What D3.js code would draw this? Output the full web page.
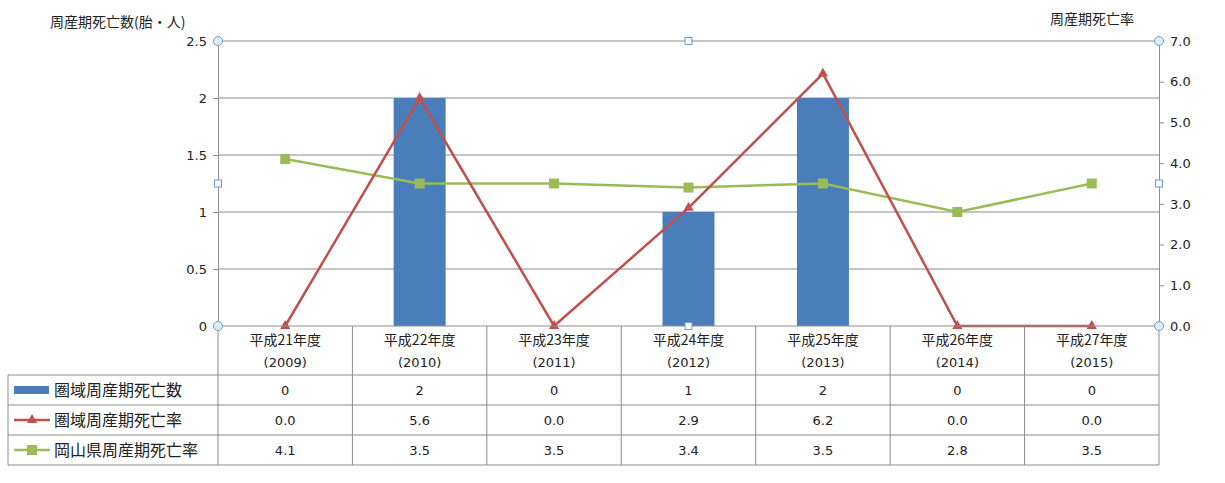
<!DOCTYPE html>
<html>
<head>
<meta charset="utf-8">
<script src="https://cdn.jsdelivr.net/npm/d3@7"></script>
<style>
  body { margin: 0; background: #fff; }
  text { font-family: "Noto Sans CJK JP", "Noto Sans", sans-serif; fill: #222; }
</style>
</head>
<body>
<div id="root"></div>
<script>
const categories = ["平成21年度", "平成22年度", "平成23年度", "平成24年度", "平成25年度", "平成26年度", "平成27年度"];
const years = ["(2009)", "(2010)", "(2011)", "(2012)", "(2013)", "(2014)", "(2015)"];
const deaths = [0, 2, 0, 1, 2, 0, 0];
const areaRate = [0.0, 5.6, 0.0, 2.9, 6.2, 0.0, 0.0];
const prefRate = [4.1, 3.5, 3.5, 3.4, 3.5, 2.8, 3.5];
const leftTicks = [0, 0.5, 1, 1.5, 2, 2.5];
const rightTicks = [0, 1, 2, 3, 4, 5, 6, 7];
const seriesNames = ["圏域周産期死亡数", "圏域周産期死亡率", "岡山県周産期死亡率"];

const W = 1225, H = 483;
const plot = {left: 218, right: 1159, top: 41, bottom: 326};
const tableLeft = 8, rowH = 30, headBottom = 375;
const blue = "#4a7ebb", red = "#c0504d", green = "#9bbb59";

const svg = d3.select("#root").append("svg")
    .attr("width", W)
    .attr("height", H);

let x = d3.scaleBand()
    .domain(categories)
    .range([plot.left, plot.right]);

let yL = d3.scaleLinear().domain([0, 2.5]).range([plot.bottom, plot.top]);
let yR = d3.scaleLinear().domain([0, 7]).range([plot.bottom, plot.top]);
const cx = (i) => x(categories[i]) + x.bandwidth() / 2;

// gridlines
svg.selectAll(".grid")
  .data(leftTicks.filter(d => d > 0))
  .enter().append("line")
    .attr("x1", plot.left).attr("x2", plot.right)
    .attr("y1", d => yL(d)).attr("y2", d => yL(d))
    .attr("stroke", "#8c8c8c").attr("stroke-width", 1);

// left axis
let leftAxis = d3.axisLeft(yL).tickValues(leftTicks).tickSize(5).tickPadding(6)
    .tickFormat(d => d);
let gL = svg.append("g")
    .attr("transform", "translate(" + plot.left + ",0)")
    .call(leftAxis);
gL.select(".domain").attr("stroke", "#8c8c8c");
gL.selectAll(".tick line").attr("stroke", "#8c8c8c");
gL.selectAll(".tick text").attr("font-size", 13).style("font-family", "'DejaVu Sans', sans-serif").attr("fill", "#333");

// right axis
let rightAxis = d3.axisRight(yR).tickValues(rightTicks).tickSize(5).tickPadding(6)
    .tickFormat(d3.format(".1f"));
let gR = svg.append("g")
    .attr("transform", "translate(" + plot.right + ",0)")
    .call(rightAxis);
gR.select(".domain").attr("stroke", "#8c8c8c");
gR.selectAll(".tick line").attr("stroke", "#8c8c8c");
gR.selectAll(".tick text").attr("font-size", 13).style("font-family", "'DejaVu Sans', sans-serif").attr("fill", "#333");

// axis titles
svg.append("text").attr("x", 50).attr("y", 27).attr("font-size", 14).text("周産期死亡数(胎・人)");
svg.append("text").attr("x", 1050).attr("y", 24).attr("font-size", 14).text("周産期死亡率");

// bars
const barW = 52;
svg.selectAll(".bar")
  .data(deaths)
  .enter().append("rect")
    .attr("x", (d, i) => cx(i) - barW / 2)
    .attr("y", d => yL(d))
    .attr("width", barW)
    .attr("height", d => plot.bottom - yL(d))
    .attr("fill", blue);

// lines
const line = (s) => d3.line().x((d, i) => cx(i)).y(d => s(d));
svg.append("path").datum(prefRate)
    .attr("d", line(yR)).attr("fill", "none")
    .attr("stroke", green).attr("stroke-width", 2.5);
svg.append("path").datum(areaRate)
    .attr("d", line(yR)).attr("fill", "none")
    .attr("stroke", red).attr("stroke-width", 2.5);

svg.selectAll(".sq")
  .data(prefRate)
  .enter().append("rect")
    .attr("x", (d, i) => cx(i) - 5).attr("y", d => yR(d) - 5)
    .attr("width", 10).attr("height", 10)
    .attr("fill", green);

const tri = d3.symbol().type(d3.symbolTriangle).size(45);
svg.selectAll(".tri")
  .data(areaRate)
  .enter().append("path")
    .attr("d", tri)
    .attr("transform", (d, i) => "translate(" + cx(i) + "," + yR(d) + ")")
    .attr("fill", red);

// plot x-axis line
svg.append("line")
    .attr("x1", plot.left).attr("x2", plot.right)
    .attr("y1", plot.bottom).attr("y2", plot.bottom)
    .attr("stroke", "#8c8c8c");

// data table
const tableBottom = headBottom + rowH * 3;
const grid = svg.append("g").attr("stroke", "#8c8c8c").attr("stroke-width", 1);
categories.forEach((c, i) => {
  let xb = x(c) + x.bandwidth();
  grid.append("line").attr("x1", xb).attr("x2", xb).attr("y1", plot.bottom).attr("y2", tableBottom);
});
[0, 1, 2, 3].forEach(r => {
  grid.append("line").attr("x1", tableLeft).attr("x2", plot.right)
    .attr("y1", headBottom + r * rowH).attr("y2", headBottom + r * rowH);
});
grid.append("line").attr("x1", tableLeft).attr("x2", tableLeft).attr("y1", headBottom).attr("y2", tableBottom);
grid.append("line").attr("x1", plot.left).attr("x2", plot.left).attr("y1", plot.bottom).attr("y2", tableBottom);

// category labels
categories.forEach((c, i) => {
  svg.append("text").attr("x", cx(i)).attr("y", 345).attr("text-anchor", "middle")
    .attr("font-size", 14).text(c);
  svg.append("text").attr("x", cx(i)).attr("y", 367).attr("text-anchor", "middle")
    .attr("font-size", 13).style("font-family", "'DejaVu Sans', sans-serif").attr("fill", "#333").text(years[i]);
});

// table values
const rows = [deaths.map(d => d), areaRate.map(d => d.toFixed(1)), prefRate.map(d => d.toFixed(1))];
rows.forEach((row, r) => {
  row.forEach((v, i) => {
    svg.append("text").attr("x", cx(i)).attr("y", headBottom + r * rowH + 20)
      .attr("text-anchor", "middle").attr("font-size", 13)
      .style("font-family", "'DejaVu Sans', sans-serif").attr("fill", "#333").text(v);
  });
});

// legend keys
const ly = (r) => headBottom + r * rowH + rowH / 2;
svg.append("rect").attr("x", 14).attr("y", ly(0) - 4).attr("width", 35).attr("height", 8).attr("fill", blue);
svg.append("line").attr("x1", 14).attr("x2", 50).attr("y1", ly(1)).attr("y2", ly(1))
    .attr("stroke", red).attr("stroke-width", 2.5);
svg.append("path").attr("d", tri).attr("transform", "translate(32," + ly(1) + ")").attr("fill", red);
svg.append("line").attr("x1", 14).attr("x2", 50).attr("y1", ly(2)).attr("y2", ly(2))
    .attr("stroke", green).attr("stroke-width", 2.5);
svg.append("rect").attr("x", 27).attr("y", ly(2) - 5).attr("width", 10).attr("height", 10).attr("fill", green);
seriesNames.forEach((n, r) => {
  svg.append("text").attr("x", 54).attr("y", ly(r) + 6).attr("font-size", 16).text(n);
});

// selection handles
const handles = svg.append("g").attr("stroke", "#6f9fbf").attr("stroke-width", 1);
[[plot.left, plot.top], [plot.right, plot.top], [plot.left, plot.bottom], [plot.right, plot.bottom]].forEach(p => {
  handles.append("circle").attr("cx", p[0]).attr("cy", p[1]).attr("r", 4.5).attr("fill", "#ddeef5");
});
const midX = (plot.left + plot.right) / 2, midY = (plot.top + plot.bottom) / 2;
[[midX, plot.top], [midX, plot.bottom], [plot.left, midY], [plot.right, midY]].forEach(p => {
  handles.append("rect").attr("x", p[0] - 3.5).attr("y", p[1] - 3.5).attr("width", 7).attr("height", 7).attr("fill", "#f4fafd");
});
</script>
</body>
</html>
